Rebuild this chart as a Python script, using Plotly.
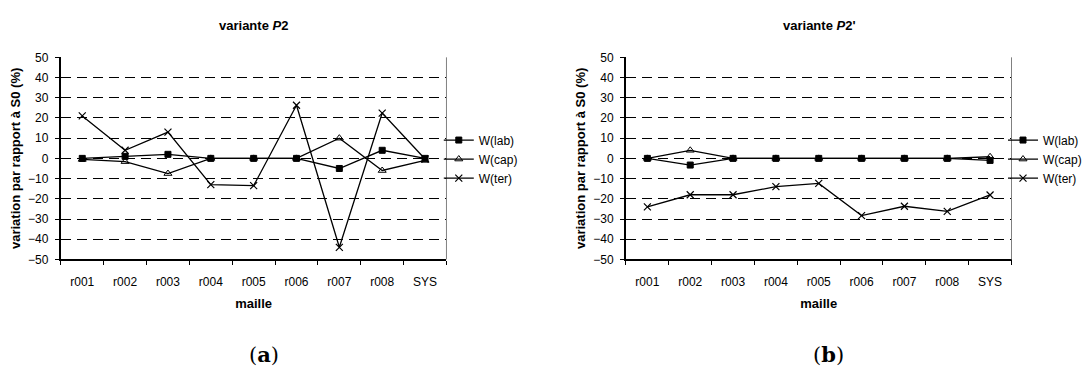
import plotly.graph_objects as go

categories = ["r001", "r002", "r003", "r004", "r005", "r006", "r007", "r008", "SYS"]

# variante P2
a_lab = [0, 1, 2, 0, 0, 0, -5, 4, 0]
a_cap = [-0.5, -1.6, -7.5, 0, 0, 0, 10, -6, -1]
a_ter = [21, 4, 13, -13, -13.5, 26.3, -44, 22.4, -0.3]

# variante P2'
b_lab = [0, -3.3, 0, 0, 0, 0, 0, 0, -1]
b_cap = [0, 4, 0, 0, 0, 0, 0, 0, 0.8]
b_ter = [-24, -18, -18, -14, -12.4, -28.3, -23.7, -26.2, -18.1]

series_names = ["W(lab)", "W(cap)", "W(ter)"]
y_ticks = list(range(-50, 51, 10))

W, H = 1087, 372
FONT = "Liberation Sans, Arial, sans-serif"
SERIF = "DejaVu Serif, Liberation Serif, serif"

markers = [
    dict(symbol="square", size=6, color="black", line=dict(color="black", width=1)),
    dict(symbol="triangle-up-open", size=7, color="black", line=dict(color="black", width=1)),
    dict(symbol="x-thin-open", size=7, color="black", line=dict(color="black", width=1.2)),
]

fig = go.Figure()

panels = [
    (dict(xa="x", ya="y", legend="legend"), [a_lab, a_cap, a_ter]),
    (dict(xa="x2", ya="y2", legend="legend2"), [b_lab, b_cap, b_ter]),
]
for p, data in panels:
    for name, vals, mk in zip(series_names, data, markers):
        fig.add_trace(go.Scatter(
            x=categories, y=vals, name=name, mode="lines+markers",
            line=dict(color="black", width=1.3), marker=mk,
            xaxis=p["xa"], yaxis=p["ya"], legend=p["legend"], cliponaxis=False,
        ))

ydom = [(372 - 262.3) / H, (372 - 52.3) / H]
xdom1 = [61 / W, 447.7 / W]
xdom2 = [627.7 / W, 1014.3 / W]

def xaxis(dom, anchor):
    return dict(
        domain=dom, anchor=anchor, type="category", categoryorder="array",
        categoryarray=categories, range=[-0.5, 8.5],
        showline=True, linecolor="black", linewidth=2,
        ticks="outside", tickson="boundaries", ticklen=4, tickcolor="black", tickwidth=1,
        showgrid=False, zeroline=False, ticklabelstandoff=10,
        tickfont=dict(family=FONT, size=12, color="black"),
        title=dict(text="<b>maille</b>", font=dict(family=FONT, size=13, color="black"), standoff=11),
    )

def yaxis(anchor):
    return dict(
        domain=ydom, anchor=anchor, range=[-50, 50], tickvals=y_ticks,
        showline=True, linecolor="black", linewidth=2,
        ticks="outside", ticklen=4, tickcolor="black", tickwidth=1,
        showgrid=True, gridcolor="black", gridwidth=1, griddash="10px,6px",
        zeroline=False, ticklabelstandoff=4,
        tickfont=dict(family=FONT, size=12, color="black"),
        title=dict(text="<b>variation par rapport à S0 (%)</b>",
                   font=dict(family=FONT, size=13, color="black"), standoff=5),
    )

legend_style = dict(
    font=dict(family=FONT, size=12, color="black"),
    bgcolor="rgba(0,0,0,0)", borderwidth=0, xanchor="left", yanchor="middle",
    tracegroupgap=0, itemwidth=30,
)

fig.update_layout(
    width=W, height=H, margin=dict(l=0, r=0, t=0, b=0),
    paper_bgcolor="white", plot_bgcolor="white",
    showlegend=True,
    xaxis=xaxis(xdom1, "y"), yaxis=yaxis("x"),
    xaxis2=xaxis(xdom2, "y2"), yaxis2=yaxis("x2"),
    legend=dict(x=440 / W, y=(372 - 158) / H, **legend_style),
    legend2=dict(x=1006 / W, y=(372 - 158) / H, **legend_style),
    annotations=[
        dict(text="<b>variante <i>P</i>2</b>", x=(xdom1[0] + xdom1[1]) / 2, y=(372 - 19) / H,
             xref="paper", yref="paper", xanchor="center", yanchor="middle", showarrow=False,
             font=dict(family=FONT, size=13, color="black")),
        dict(text="<b>variante <i>P</i>2'</b>", x=(xdom2[0] + xdom2[1]) / 2, y=(372 - 19) / H,
             xref="paper", yref="paper", xanchor="center", yanchor="middle", showarrow=False,
             font=dict(family=FONT, size=13, color="black")),
        dict(text="(<b>a</b>)", x=264.5 / W, y=(372 - 361) / H, xref="paper", yref="paper",
             xanchor="center", yanchor="middle",
             showarrow=False, font=dict(family=SERIF, size=21, color="black")),
        dict(text="(<b>b</b>)", x=831 / W, y=(372 - 361) / H, xref="paper", yref="paper",
             xanchor="center", yanchor="middle",
             showarrow=False, font=dict(family=SERIF, size=21, color="black")),
    ],
    shapes=[
        dict(type="line", xref="x domain", yref="y domain", x0=1, x1=1, y0=0, y1=1,
             line=dict(color="#808080", width=1)),
        dict(type="line", xref="x2 domain", yref="y2 domain", x0=1, x1=1, y0=0, y1=1,
             line=dict(color="#808080", width=1)),
    ],
)

fig.write_html("out.html")
